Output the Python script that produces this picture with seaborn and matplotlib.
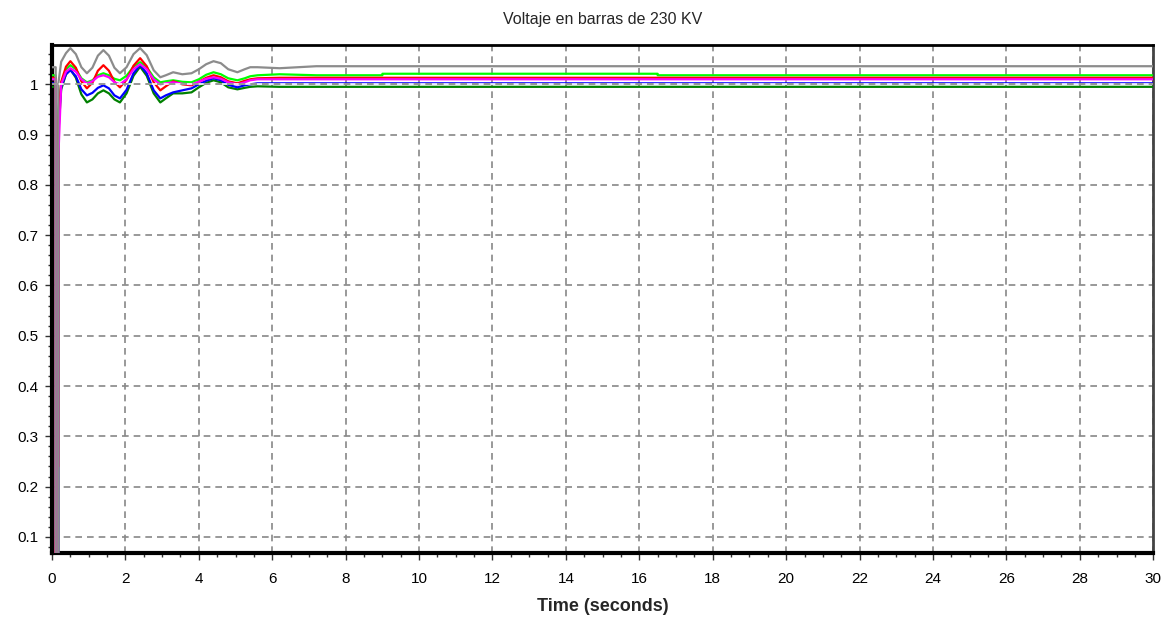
import numpy as np
import pandas as pd
import seaborn as sns
import matplotlib.pyplot as plt
from matplotlib.ticker import MultipleLocator

# shared time axis (seconds)
time_s = [0.0, 0.1, 0.1, 0.13, 0.13, 0.17, 0.17, 0.25, 0.38, 0.5, 0.65, 0.8, 0.95, 1.1,
          1.25, 1.4, 1.55, 1.7, 1.85, 2.03, 2.22, 2.4, 2.58, 2.77, 2.95, 3.1, 3.3, 3.55,
          3.8, 4.0, 4.2, 4.4, 4.6, 4.8, 5.05, 5.25, 5.4, 5.6, 6.2, 7.2,
          9.0, 9.0, 16.5, 16.5, 30.0]

v_gray = [1.034, 1.034, 0.05, 0.05, 0.05, 0.05, 1.0, 1.045, 1.062, 1.072, 1.06, 1.034, 1.022,
          1.033, 1.057, 1.068, 1.057, 1.033, 1.022, 1.034, 1.06, 1.072, 1.058, 1.028, 1.014,
          1.018, 1.024, 1.02, 1.022, 1.03, 1.04, 1.046, 1.042, 1.03, 1.024, 1.03, 1.034,
          1.034, 1.032, 1.036, 1.036, 1.036, 1.036, 1.036, 1.036]
v_red = [1.013, 1.013, 0.05, 0.24, 0.24, 0.24, 0.93, 1.005, 1.035, 1.046, 1.033, 1.006, 0.992,
         1.003, 1.027, 1.038, 1.027, 1.005, 0.994, 1.009, 1.037, 1.052, 1.036, 1.004, 0.988,
         0.996, 1.006, 1.0, 0.998, 1.005, 1.013, 1.018, 1.014, 1.006, 1.002, 1.007, 1.01,
         1.012, 1.013, 1.013, 1.013, 1.013, 1.013, 1.013, 1.013]
v_lime = [1.018, 1.018, 0.05, 0.05, 0.05, 0.05, 0.95, 1.0, 1.03, 1.038, 1.03, 1.012, 1.004,
          1.008, 1.018, 1.022, 1.018, 1.011, 1.008, 1.017, 1.035, 1.044, 1.034, 1.014, 1.004,
          1.006, 1.008, 1.005, 1.004, 1.01, 1.019, 1.024, 1.02, 1.012, 1.008, 1.012, 1.016,
          1.018, 1.02, 1.018, 1.018, 1.021, 1.021, 1.018, 1.018]
v_dkgreen = [0.995, 0.995, 0.05, 0.05, 0.05, 0.05, 0.9, 0.99, 1.02, 1.03, 1.013, 0.98, 0.964,
             0.97, 0.982, 0.988, 0.982, 0.97, 0.964, 0.982, 1.017, 1.035, 1.017, 0.982, 0.964,
             0.972, 0.982, 0.982, 0.984, 0.994, 1.003, 1.008, 1.004, 0.994, 0.99, 0.993, 0.995,
             0.996, 0.995, 0.995, 0.995, 0.995, 0.995, 0.995, 0.995]
v_blue = [1.002, 1.002, 0.05, 0.05, 0.05, 0.05, 0.92, 0.995, 1.02, 1.028, 1.016, 0.99, 0.978,
          0.983, 0.993, 0.998, 0.992, 0.978, 0.972, 0.989, 1.022, 1.038, 1.022, 0.988, 0.972,
          0.978, 0.984, 0.988, 0.992, 1.0, 1.007, 1.012, 1.008, 0.999, 0.994, 0.998, 1.0,
          1.002, 1.002, 1.002, 1.002, 1.002, 1.002, 1.002, 1.002]
v_magenta = [1.01, 1.01, 0.05, 0.05, 0.05, 0.05, 0.85, 1.0, 1.025, 1.032, 1.025, 1.01, 1.002,
             1.006, 1.015, 1.018, 1.014, 1.004, 1.0, 1.01, 1.03, 1.04, 1.03, 1.01, 1.0,
             1.002, 1.004, 1.001, 1.0, 1.005, 1.011, 1.014, 1.011, 1.004, 1.0, 1.004, 1.008,
             1.01, 1.01, 1.01, 1.01, 1.01, 1.01, 1.01, 1.01]

series = [
    (v_dkgreen, '#008000'),
    (v_blue, '#0000ff'),
    (v_lime, '#00ff00'),
    (v_red, '#ff0000'),
    (v_magenta, '#ff00ff'),
    (v_gray, '#8c8c8c'),
]

sns.set_style('white')
plt.rcParams['font.family'] = ['Liberation Sans', 'DejaVu Sans']

fig = plt.figure(figsize=(11.69, 6.22), dpi=100)
ax = fig.add_axes([0.0445, 0.111, 0.942, 0.8165])

for vals, col in series:
    sns.lineplot(x=time_s, y=vals, color=col, linewidth=1.6, ax=ax,
                 estimator=None, sort=False, zorder=3)

ax.set_xlim(0, 30)
ax.set_ylim(0.068, 1.078)
ax.xaxis.set_major_locator(MultipleLocator(2))
ax.xaxis.set_minor_locator(MultipleLocator(0.5))
ax.yaxis.set_minor_locator(MultipleLocator(0.02))
ax.set_yticks(np.arange(0.1, 1.01, 0.1))
ax.set_yticklabels(['0.1', '0.2', '0.3', '0.4', '0.5', '0.6', '0.7', '0.8', '0.9', '1'])

ax.grid(True, which='major', color='#888888', linestyle=(0, (4, 3)), linewidth=1.2, zorder=1)
ax.set_axisbelow(True)
# the 1 p.u. reference line sits over the traces
ax.axhline(1.0, color='white', linewidth=1.2, zorder=4)
ax.axhline(1.0, color='#888888', linestyle=(0, (4, 3)), linewidth=1.2, zorder=5)

ax.tick_params(which='major', direction='out', length=5, width=1, colors='#333333',
               labelsize=11, labelcolor='black', left=True, bottom=True)
ax.tick_params(axis='x', which='major', pad=9)
ax.tick_params(axis='y', which='major', pad=5)
ax.tick_params(which='minor', direction='out', length=3, width=1, colors='#333333',
               left=True, bottom=True)

ax.spines['left'].set_linewidth(3)
ax.spines['bottom'].set_linewidth(3)
ax.spines['top'].set_linewidth(2)
ax.spines['right'].set_linewidth(2)
for s in ['left', 'bottom', 'top']:
    ax.spines[s].set_color('black')
ax.spines['right'].set_color('#444444')

ax.set_title('Voltaje en barras de 230 KV', fontsize=11.5, pad=15)
ax.set_xlabel('Time (seconds)', fontsize=13, fontweight='bold', labelpad=8)
ax.set_ylabel('')

fig.savefig('out.png', dpi=100)
plt.close()
